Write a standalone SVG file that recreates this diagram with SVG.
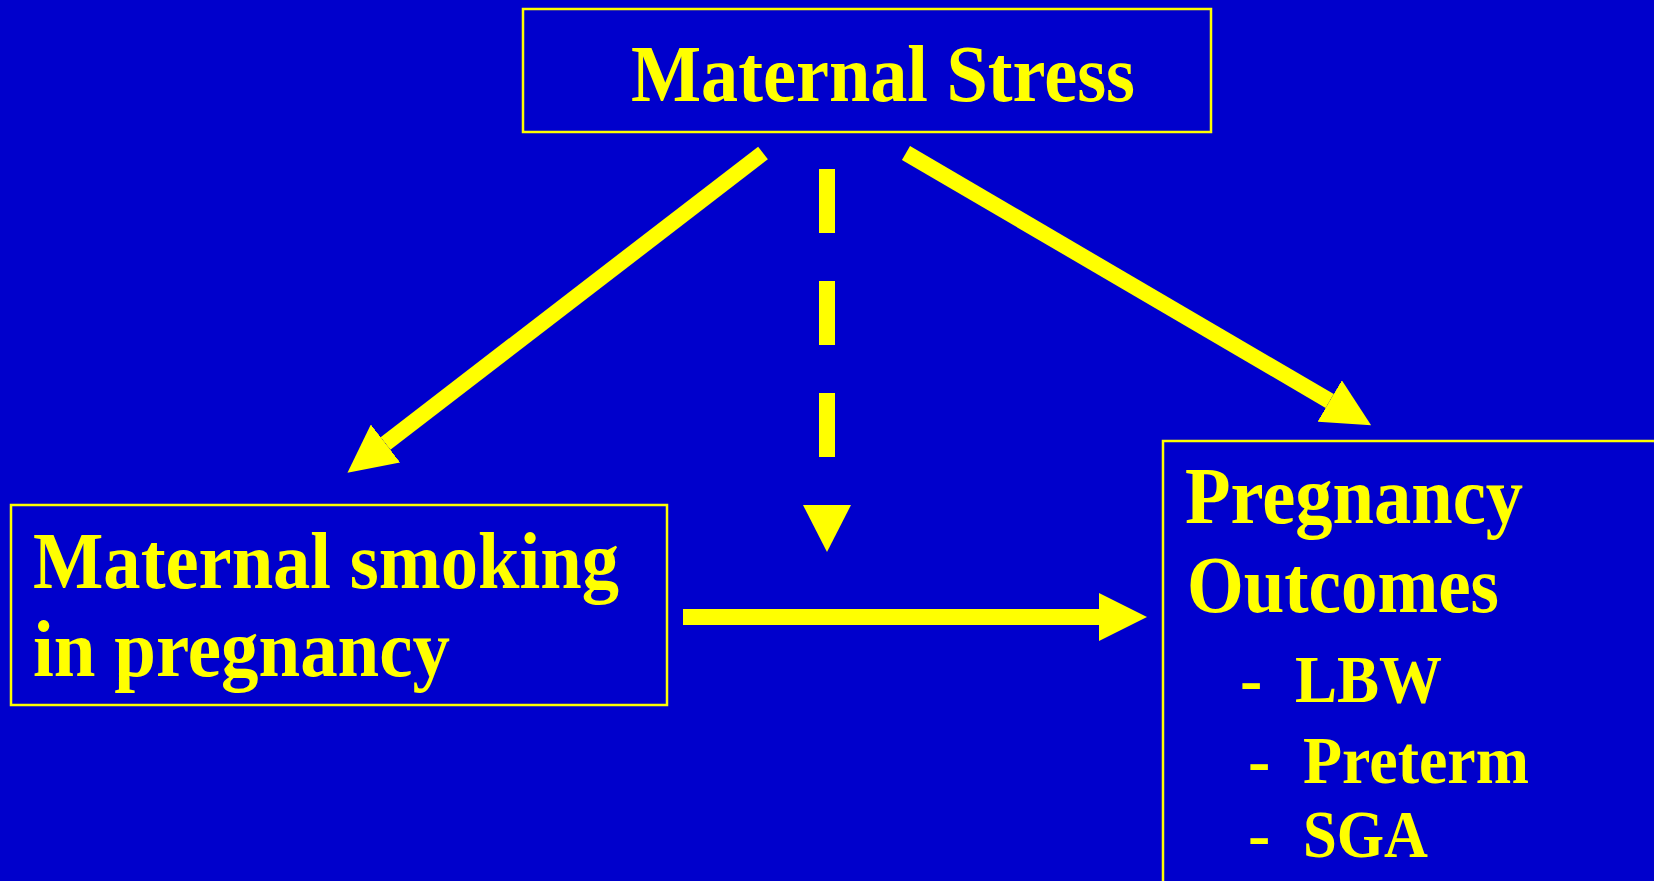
<svg xmlns="http://www.w3.org/2000/svg" width="1654" height="881" viewBox="0 0 1654 881">
<style>
.box{fill:none;stroke:#FFFF00;stroke-width:2.5}
.t{font-family:"Liberation Serif","Times New Roman",serif;font-weight:bold;fill:#FFFF00}
.big{font-size:80px}
.small{font-size:67px}
.con{stroke:#FFFF00;stroke-width:16;fill:none;stroke-linecap:butt}
</style>
<defs>
<marker id="ah" viewBox="0 0 48 48" markerWidth="48" markerHeight="48" refX="0" refY="24" orient="auto" markerUnits="userSpaceOnUse">
<path d="M0,0 L48,24 L0,48 Z" fill="#FFFF00"/>
</marker>
</defs>
<rect x="0" y="0" width="1654" height="881" fill="#0000CC"/>
<g id="node-stress">
<rect class="box" x="523" y="9" width="688" height="123"/>
<text class="t big" x="631" y="101" textLength="504" lengthAdjust="spacingAndGlyphs">Maternal Stress</text>
</g>
<g id="node-smoking">
<rect class="box" x="11" y="505" width="656" height="200"/>
<text class="t big" x="33" y="588" textLength="586" lengthAdjust="spacingAndGlyphs">Maternal smoking</text>
<text class="t big" x="33" y="676" textLength="417" lengthAdjust="spacingAndGlyphs">in pregnancy</text>
</g>
<g id="node-outcomes">
<rect class="box" x="1163" y="441" width="520" height="480"/>
<text class="t big" x="1185" y="523" textLength="338" lengthAdjust="spacingAndGlyphs">Pregnancy</text>
<text class="t big" x="1187" y="612" textLength="312" lengthAdjust="spacingAndGlyphs">Outcomes</text>
<text class="t small" y="702"><tspan x="1240">-</tspan><tspan x="1295" textLength="147" lengthAdjust="spacingAndGlyphs">LBW</tspan></text>
<text class="t small" y="783"><tspan x="1248">-</tspan><tspan x="1303" textLength="226" lengthAdjust="spacingAndGlyphs">Preterm</tspan></text>
<text class="t small" y="857"><tspan x="1248">-</tspan><tspan x="1303" textLength="125" lengthAdjust="spacingAndGlyphs">SGA</tspan></text>
</g>
<g id="connectors">
<line class="con" x1="763" y1="153" x2="385.5" y2="443.5" marker-end="url(#ah)"/>
<line class="con" x1="906" y1="153" x2="1329.7" y2="401" marker-end="url(#ah)"/>
<line class="con" x1="827" y1="169" x2="827" y2="457" stroke-dasharray="64 48"/>
<polygon points="803,505 851,505 827,552" fill="#FFFF00"/>
<line class="con" x1="683" y1="617" x2="1099" y2="617" marker-end="url(#ah)"/>
</g>
</svg>
